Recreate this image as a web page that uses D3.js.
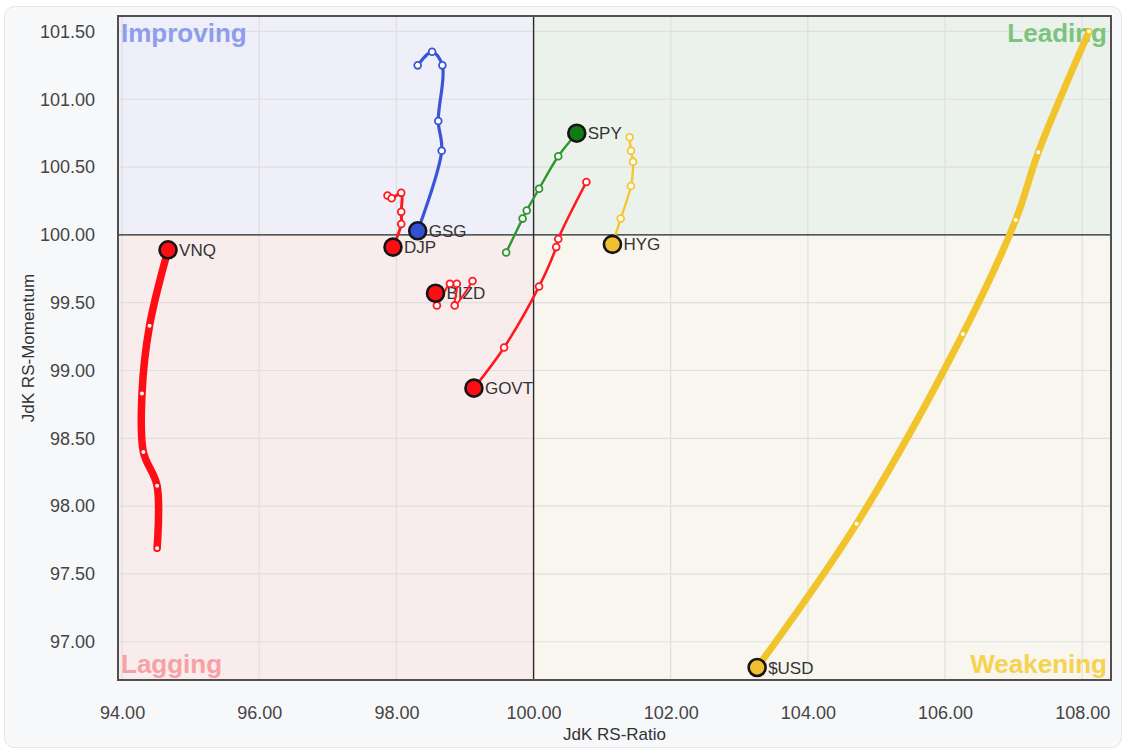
<!DOCTYPE html>
<html>
<head>
<meta charset="utf-8">
<script src="https://cdn.jsdelivr.net/npm/d3@7"></script>
<style>
  html, body { margin: 0; padding: 0; background: #ffffff; }
  svg { display: block; }
  text { font-family: "Liberation Sans", Arial, sans-serif; }
</style>
</head>
<body>
<svg id="chart" width="1130" height="752"></svg>
<script>
// ---------------- data ----------------
const xTicks = [94, 96, 98, 100, 102, 104, 106, 108];
const yTicks = [97.0, 97.5, 98.0, 98.5, 99.0, 99.5, 100.0, 100.5, 101.0, 101.5];
const quadrantNames = ["Improving", "Leading", "Lagging", "Weakening"];
const symbols = ["VNQ", "DJP", "GSG", "BIZD", "GOVT", "SPY", "HYG", "$USD"];

// tails, oldest -> newest (last value is the head)
const vnqRatio    = [94.51, 94.51, 94.31, 94.29, 94.40, 94.67];
const vnqMomentum = [97.69, 98.15, 98.40, 98.83, 99.33, 99.89];

const djpRatio    = [97.87, 97.93, 98.07, 98.07, 98.07, 97.95];
const djpMomentum = [100.29, 100.27, 100.31, 100.17, 100.08, 99.91];

const gsgRatio    = [98.31, 98.52, 98.67, 98.61, 98.66, 98.31];
const gsgMomentum = [101.25, 101.35, 101.25, 100.84, 100.62, 100.03];

const bizdRatio    = [99.11, 98.85, 98.88, 98.78, 98.59, 98.57];
const bizdMomentum = [99.66, 99.48, 99.64, 99.64, 99.48, 99.57];

const govtRatio    = [100.77, 100.36, 100.33, 100.08, 99.57, 99.13];
const govtMomentum = [100.39, 99.97, 99.91, 99.62, 99.17, 98.87];

const spyRatio    = [99.60, 99.84, 99.90, 100.08, 100.36, 100.63];
const spyMomentum = [99.87, 100.12, 100.18, 100.34, 100.58, 100.75];

const hygRatio    = [101.40, 101.42, 101.45, 101.42, 101.27, 101.15];
const hygMomentum = [100.72, 100.62, 100.54, 100.36, 100.12, 99.93];

const usdRatio    = [108.10, 107.36, 107.03, 106.26, 104.71, 103.26];
const usdMomentum = [101.50, 100.61, 100.11, 99.27, 97.87, 96.81];

const seriesRatio = [vnqRatio, djpRatio, gsgRatio, bizdRatio, govtRatio, spyRatio, hygRatio, usdRatio];
const seriesMomentum = [vnqMomentum, djpMomentum, gsgMomentum, bizdMomentum, govtMomentum, spyMomentum, hygMomentum, usdMomentum];

// ---------------- styles ----------------
const style = {
  "VNQ":  { line: "#ff0d14", head: "#ff0d14", width: 7.5 },
  "DJP":  { line: "#ff1a1f", head: "#ff0d14", width: 3 },
  "GSG":  { line: "#3a55d8", head: "#3350d4", width: 3.2 },
  "BIZD": { line: "#ff1a1f", head: "#ff0d14", width: 2 },
  "GOVT": { line: "#ff1a1f", head: "#ff0d14", width: 2.6 },
  "SPY":  { line: "#2e962e", head: "#117a11", width: 2.4 },
  "HYG":  { line: "#f3c832", head: "#f0c030", width: 2.4 },
  "$USD": { line: "#f2c42c", head: "#f0c030", width: 7 }
};
const quadStyle = {
  "Improving": { bg: "#eeeff8", fg: "#8e9cec" },
  "Leading":   { bg: "#ebf2eb", fg: "#7cc47e" },
  "Lagging":   { bg: "#f9ecec", fg: "#f7a0a6" },
  "Weakening": { bg: "#f8f6ee", fg: "#f6d24e" }
};

// ---------------- layout ----------------
const svg = d3.select("#chart");
const L = 118, R = 1111, T = 16, B = 680;

const x = d3.scaleLinear().domain([93.94, 108.42]).range([L, R]);
const y = d3.scaleLinear().domain([96.718, 101.614]).range([B, T]);

// card background
svg.append("rect")
  .attr("x", 4.5).attr("y", 6.5).attr("width", 1117).attr("height", 741)
  .attr("rx", 10).attr("fill", "#f7f8fa").attr("stroke", "#e3e5e9");

// quadrants
const cx = x(100), cy = y(100);
const quads = [
  { name: "Improving", x0: L, y0: T, x1: cx, y1: cy },
  { name: "Leading", x0: cx, y0: T, x1: R, y1: cy },
  { name: "Lagging", x0: L, y0: cy, x1: cx, y1: B },
  { name: "Weakening", x0: cx, y0: cy, x1: R, y1: B }
];
svg.append("g").selectAll("rect").data(quads).join("rect")
  .attr("x", d => d.x0).attr("y", d => d.y0)
  .attr("width", d => d.x1 - d.x0).attr("height", d => d.y1 - d.y0)
  .attr("fill", d => quadStyle[d.name].bg);

// grid
const grid = svg.append("g").attr("stroke", "#dfdfdf").attr("stroke-width", 1.2);
grid.selectAll("line.v").data(xTicks).join("line")
  .attr("x1", d => x(d)).attr("x2", d => x(d)).attr("y1", T).attr("y2", B);
grid.selectAll("line.h").data(yTicks).join("line")
  .attr("y1", d => y(d)).attr("y2", d => y(d)).attr("x1", L).attr("x2", R);

// center lines
svg.append("line").attr("x1", cx).attr("x2", cx).attr("y1", T).attr("y2", B)
  .attr("stroke", "#2a2a2a").attr("stroke-width", 1.4);
svg.append("line").attr("x1", L).attr("x2", R).attr("y1", cy).attr("y2", cy)
  .attr("stroke", "#2a2a2a").attr("stroke-width", 1.4);

// quadrant labels
const qlab = svg.append("g").attr("font-size", 26).attr("font-weight", "bold");
qlab.append("text").text(quadrantNames[0]).attr("x", L + 3).attr("y", T + 26)
  .attr("fill", quadStyle["Improving"].fg);
qlab.append("text").text(quadrantNames[1]).attr("x", R - 4).attr("y", T + 26)
  .attr("text-anchor", "end").attr("fill", quadStyle["Leading"].fg);
qlab.append("text").text(quadrantNames[2]).attr("x", L + 3).attr("y", B - 7)
  .attr("fill", quadStyle["Lagging"].fg);
qlab.append("text").text(quadrantNames[3]).attr("x", R - 4).attr("y", B - 7)
  .attr("text-anchor", "end").attr("fill", quadStyle["Weakening"].fg);

// plot border
svg.append("rect").attr("x", L).attr("y", T).attr("width", R - L).attr("height", B - T)
  .attr("fill", "none").attr("stroke", "#505050").attr("stroke-width", 2);

// axes
const fmt = d3.format(".2f");
const xAxis = svg.append("g").attr("transform", `translate(0,${B})`)
  .call(d3.axisBottom(x).tickValues(xTicks).tickFormat(fmt).tickSize(0).tickPadding(26));
const yAxis = svg.append("g").attr("transform", `translate(${L},0)`)
  .call(d3.axisLeft(y).tickValues(yTicks).tickFormat(fmt).tickSize(0).tickPadding(23));
[xAxis, yAxis].forEach(a => {
  a.select(".domain").remove();
  a.selectAll("text").attr("font-size", 18).attr("fill", "#444")
    .attr("font-family", "'Liberation Sans', Arial, sans-serif");
});

svg.append("text").text("JdK RS-Ratio")
  .attr("x", (L + R) / 2).attr("y", 740).attr("text-anchor", "middle")
  .attr("font-size", 17).attr("fill", "#333");
svg.append("text").text("JdK RS-Momentum")
  .attr("transform", `translate(34,${(T + B) / 2}) rotate(-90)`)
  .attr("text-anchor", "middle").attr("font-size", 17).attr("fill", "#333");

// series
const line = d3.line().x(d => x(d[0])).y(d => y(d[1])).curve(d3.curveCatmullRom.alpha(0.5));
const series = symbols.map((s, i) => ({
  name: s,
  pts: seriesRatio[i].map((r, j) => [r, seriesMomentum[i][j]])
}));

// labels (drawn under marks)
const labG = svg.append("g").attr("font-size", 17).attr("fill", "#333");
series.forEach(s => {
  const h = s.pts[s.pts.length - 1];
  labG.append("text").text(s.name)
    .attr("x", x(h[0]) + 11).attr("y", y(h[1]) + 6);
});

series.forEach(s => {
  const st = style[s.name];
  const g = svg.append("g");
  g.append("path").attr("d", line(s.pts)).attr("fill", "none")
    .attr("stroke", st.line).attr("stroke-width", st.width)
    .attr("stroke-linecap", "round").attr("stroke-linejoin", "round");
  const tail = s.pts.slice(0, -1);
  const thick = st.width > 5;
  g.selectAll("circle.t").data(tail).join("circle")
    .attr("cx", d => x(d[0])).attr("cy", d => y(d[1]))
    .attr("r", thick ? 2.6 : 3.4)
    .attr("fill", "#fff").attr("stroke", st.line).attr("stroke-width", thick ? 1.2 : 1.8);
  const h = s.pts[s.pts.length - 1];
  g.append("circle").attr("cx", x(h[0])).attr("cy", y(h[1])).attr("r", 8.5)
    .attr("fill", st.head).attr("stroke", "#151515").attr("stroke-width", 2.6);
});
</script>
</body>
</html>
